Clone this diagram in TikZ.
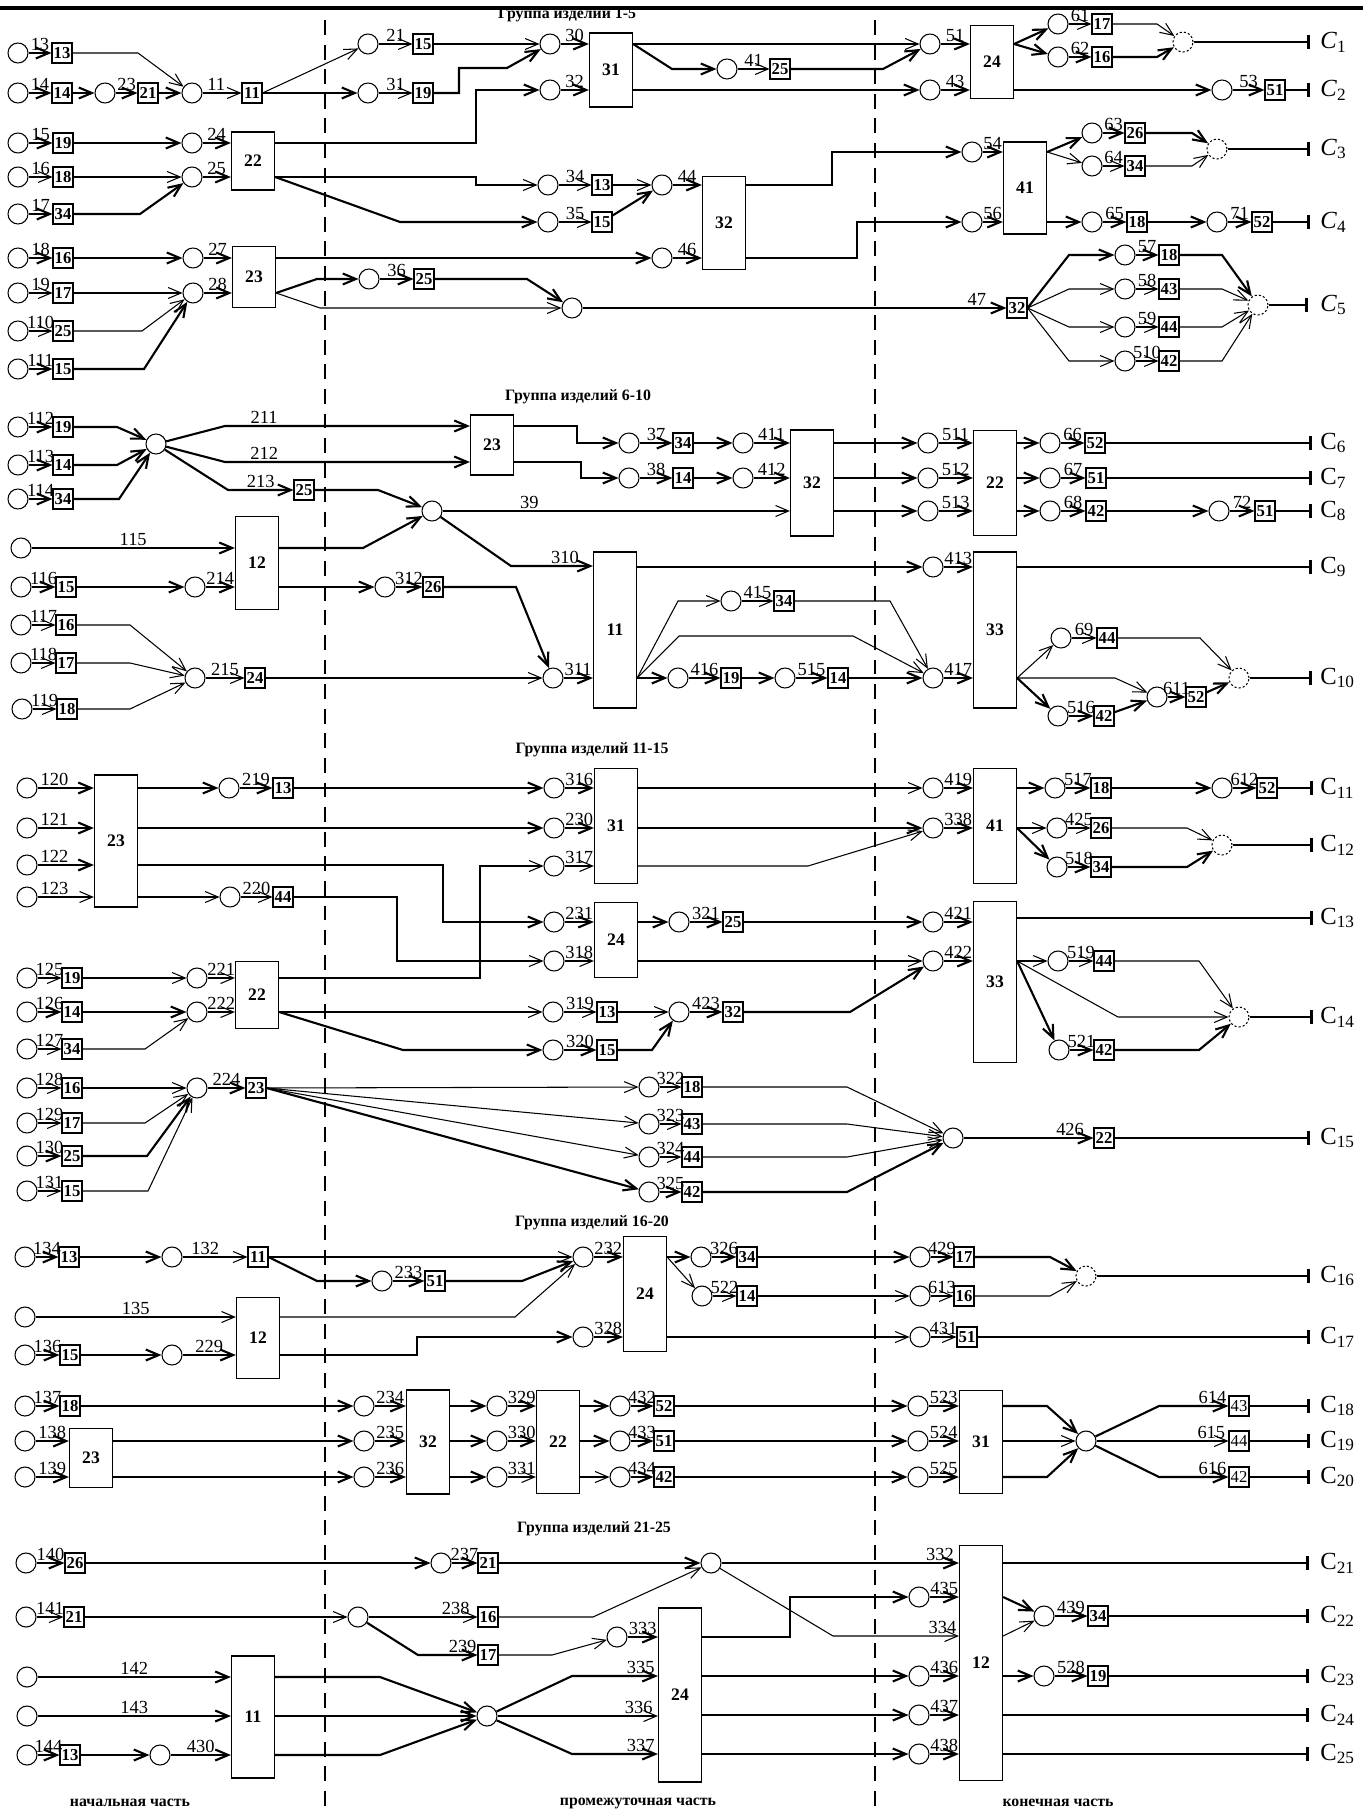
\documentclass[tikz,border=0pt]{standalone}
\usepackage{fontspec}
\setmainfont{Liberation Serif}
\usetikzlibrary{arrows.meta,calc}

\begin{document}
\begin{tikzpicture}[x=0.02cm,y=-0.02cm,
  >={Straight Barb[length=2.6mm,width=2.2mm]},
  thn/.style={line width=0.6pt},
  thk/.style={line width=1.2pt},
  endbar/.style={-{Bar[width=2.8mm,line width=1.7pt]}},
  ev/.style={circle,draw,line width=0.6pt,minimum size=0.4cm,inner sep=0pt},
  dv/.style={ev,dash pattern=on 1.2pt off 1.2pt},
  op/.style={draw,line width=0.6pt,minimum size=0.4cm,inner sep=0pt,font=\fontsize{9.5}{9.5}\selectfont\bfseries},
  opr/.style={op,font=\fontsize{9.5}{9.5}\selectfont},
  blk/.style={draw,line width=0.7pt,minimum width=0.86cm,inner sep=0pt,font=\fontsize{10}{10}\selectfont\bfseries},
  lab/.style={above,inner sep=1pt,font=\fontsize{10.5}{10.5}\selectfont},
  cl/.style={anchor=west,inner sep=0pt,font=\fontsize{14}{14}\selectfont},
  hd/.style={font=\fontsize{9}{9}\selectfont\bfseries}]
  \useasboundingbox (0,0) rectangle (1371,1814);

  \draw[line width=2.2pt] (0,8) -- (1363,8);
  \draw[thn,dash pattern=on 8.5pt off 5.5pt] (325,20) -- (325,1814);
  \draw[thn,dash pattern=on 8.5pt off 5.5pt] (875,20) -- (875,1814);

  \node[hd] (h1) at (567,15) {Группа изделий 1-5};
  \node[hd] (h2) at (578,397) {Группа изделий 6-10};
  \node[hd] (h3) at (592,750) {Группа изделий 11-15};
  \node[hd] (h4) at (592,1223) {Группа изделий 16-20};
  \node[hd] (h5) at (594,1529) {Группа изделий 21-25};
  \node[hd] (p1) at (130,1803) {начальная часть};
  \node[hd] (p2) at (638,1803) {промежуточная часть};
  \node[hd] (p3) at (1058,1803) {конечная часть};

  % group 1-5
  \node[ev] (c13) at (18,53) {};
  \node[op] (o13) at (62,53) {13};
  \node[ev] (c14) at (18,93) {};
  \node[op] (o14) at (62,93) {14};
  \node[ev] (c23) at (105,93) {};
  \node[op] (o23) at (148,93) {21};
  \node[ev] (c11) at (192,93) {};
  \node[op] (o11) at (252,93) {11};
  \node[ev] (c21) at (368,44) {};
  \node[op] (o21) at (423,44) {15};
  \node[ev] (c31) at (368,93) {};
  \node[op] (o31) at (423,93) {19};
  \node[ev] (c30) at (550,44) {};
  \node[ev] (c32) at (550,90) {};
  \node[blk,minimum height=1.48cm] (g1b31) at (611,70) {31};
  \node[ev] (c41) at (727,69) {};
  \node[op] (o41) at (780,69) {25};
  \node[ev] (c51) at (930,44) {};
  \node[ev] (c43) at (930,90) {};
  \node[blk,minimum height=1.46cm] (g1b24) at (992,62) {24};
  \node[ev] (c61) at (1058,24) {};
  \node[op] (o61) at (1102,24) {17};
  \node[ev] (c62) at (1058,57) {};
  \node[op] (o62) at (1102,57) {16};
  \node[dv] (d1) at (1183,42) {};
  \node[ev] (c53) at (1222,90) {};
  \node[op] (o53) at (1275,90) {51};

  \node[ev] (c15) at (18,143) {};
  \node[op] (o15) at (63,143) {19};
  \node[ev] (c24) at (192,143) {};
  \node[ev] (c16) at (18,177) {};
  \node[op] (o16) at (63,177) {18};
  \node[ev] (c25) at (192,177) {};
  \node[ev] (c17) at (18,214) {};
  \node[op] (o17) at (63,214) {34};
  \node[blk,minimum height=1.16cm] (g1b22) at (253,161) {22};
  \node[ev] (c34) at (548,185) {};
  \node[op] (o34) at (602,185) {13};
  \node[ev] (c35) at (548,222) {};
  \node[op] (o35) at (602,222) {15};
  \node[ev] (c44) at (662,185) {};
  \node[ev] (c46) at (662,258) {};
  \node[blk,minimum height=1.86cm] (g1b32) at (724,223) {32};
  \node[ev] (c54) at (972,152) {};
  \node[ev] (c56) at (972,222) {};
  \node[blk,minimum height=1.84cm] (g1b41) at (1025,188) {41};
  \node[ev] (c63) at (1092,133) {};
  \node[op] (o63) at (1135,133) {26};
  \node[ev] (c64) at (1092,166) {};
  \node[op] (o64) at (1135,166) {34};
  \node[dv] (d3) at (1217,149) {};
  \node[ev] (c65) at (1092,222) {};
  \node[op] (o65) at (1137,222) {18};
  \node[ev] (c71) at (1217,222) {};
  \node[op] (o71) at (1262,222) {52};

  \node[ev] (c18) at (18,258) {};
  \node[op] (o18) at (63,258) {16};
  \node[ev] (c27) at (193,258) {};
  \node[ev] (c19) at (18,293) {};
  \node[op] (o19) at (63,293) {17};
  \node[ev] (c28) at (193,293) {};
  \node[ev] (c110) at (18,331) {};
  \node[op] (o110) at (63,331) {25};
  \node[ev] (c111) at (18,369) {};
  \node[op] (o111) at (63,369) {15};
  \node[blk,minimum height=1.22cm] (g1b23) at (254,277) {23};
  \node[ev] (c36) at (369,279) {};
  \node[op] (o36) at (424,279) {25};
  \node[ev] (c47) at (572,308) {};
  \node[op] (o47) at (1017,308) {32};
  \node[ev] (c57) at (1125,255) {};
  \node[op] (o57) at (1169,255) {18};
  \node[ev] (c58) at (1125,289) {};
  \node[op] (o58) at (1169,289) {43};
  \node[ev] (c59) at (1125,327) {};
  \node[op] (o59) at (1169,327) {44};
  \node[ev] (c510) at (1125,361) {};
  \node[op] (o510) at (1169,361) {42};
  \node[dv] (d5) at (1258,305) {};

  \draw[thk,->] (c13) -- node[lab]{13} (o13);
  \draw[thn,->] (o13) -- (138,53) -- (c11);
  \draw[thk,->] (c14) -- node[lab]{14} (o14);
  \draw[thk,->] (o14) -- (c23);
  \draw[thk,->] (c23) -- node[lab]{23} (o23);
  \draw[thk,->] (o23) -- (c11);
  \draw[thn,->] (c11) -- node[lab,pos=0.35]{11} (o11);
  \draw[thn,->] (o11.east) -- (c21);
  \draw[thk,->] (o11) -- (c31);
  \draw[thn,->] (c21) -- node[lab]{21} (o21);
  \draw[thn,->] (c31) -- node[lab]{31} (o31);
  \draw[thn,->] (o21) -- (c30);
  \draw[thk,->] (o31) -- (459,93) -- (459,68) -- (507,68) -- (c30);
  \draw[thk,->] (c30) -- node[lab]{30} (c30 -| g1b31.west);
  \draw[thk,->] (c32) -- node[lab]{32} (c32 -| g1b31.west);
  \draw[thk,->] (g1b22.east |- c24) -- (476,143) -- (476,90) -- (c32);
  \draw[thn,->] (g1b31.east |- c30) -- (c51);
  \draw[thk,->] (g1b31.east |- c30) -- (672,69) -- (c41);
  \draw[thn,->] (c41) -- node[lab]{41} (o41);
  \draw[thk,->] (o41) -- (883,69) -- (c51);
  \draw[thk,->] (g1b31.east |- c43) -- (c43);
  \draw[thk,->] (c51) -- node[lab]{51} (c51 -| g1b24.west);
  \draw[thk,->] (c43) -- node[lab]{43} (c43 -| g1b24.west);
  \draw[thk,->] (g1b24.east |- c51) -- (c61);
  \draw[thk,->] (g1b24.east |- c51) -- (c62);
  \draw[thn,->] (c61) -- node[lab]{61} (o61);
  \draw[thk,->] (c62) -- node[lab]{62} (o62);
  \draw[thn,->] (o61) -- (1157,24) -- (d1);
  \draw[thk,->] (o62) -- (1157,57) -- (d1);
  \draw[thn,endbar] (d1) -- (1310,42);
  \node[cl] (C1) at (1320,42) {\textit{C}\textsubscript{1}};
  \draw[thk,->] (g1b24.east |- c43) -- (c53);
  \draw[thk,->] (c53) -- node[lab]{53} (o53);
  \draw[thn,endbar] (o53) -- (1310,90);
  \node[cl] (C2) at (1320,90) {\textit{C}\textsubscript{2}};

  \draw[thk,->] (c15) -- node[lab]{15} (o15);
  \draw[thk,->] (o15) -- (c24);
  \draw[thk,->] (c24) -- node[lab]{24} (c24 -| g1b22.west);
  \draw[thn,->] (c16) -- node[lab]{16} (o16);
  \draw[thn,->] (o16) -- (c25);
  \draw[thk,->] (c25) -- node[lab]{25} (c25 -| g1b22.west);
  \draw[thk,->] (c17) -- node[lab]{17} (o17);
  \draw[thk,->] (o17) -- (140,214) -- (c25);
  \draw[thn,->] (g1b22.east |- c25) -- (476,177) -- (476,185) -- (c34);
  \draw[thk,->] (g1b22.east |- c25) -- (400,222) -- (c35);
  \draw[thn,->] (c34) -- node[lab]{34} (o34);
  \draw[thn,->] (c35) -- node[lab]{35} (o35);
  \draw[thn,->] (o34) -- (c44);
  \draw[thk,->] (o35) -- (c44);
  \draw[thk,->] (c44) -- node[lab]{44} (c44 -| g1b32.west);
  \draw[thk,->] (c46) -- node[lab]{46} (c46 -| g1b32.west);
  \draw[thk,->] (g1b32.east |- c44) -- (832,185) -- (832,152) -- (c54);
  \draw[thk,->] (g1b32.east |- c46) -- (857,258) -- (857,222) -- (c56);
  \draw[thk,->] (c54) -- node[lab]{54} (c54 -| g1b41.west);
  \draw[thk,->] (c56) -- node[lab]{56} (c56 -| g1b41.west);
  \draw[thk,->] (g1b41.east |- c54) -- (c63);
  \draw[thn,->] (g1b41.east |- c54) -- (c64);
  \draw[thk,->] (c63) -- node[lab]{63} (o63);
  \draw[thn,->] (c64) -- node[lab]{64} (o64);
  \draw[thk,->] (o63) -- (1192,133) -- (d3);
  \draw[thn,->] (o64) -- (1192,166) -- (d3);
  \draw[thn,endbar] (d3) -- (1310,149);
  \node[cl] (C3) at (1320,149) {\textit{C}\textsubscript{3}};
  \draw[thk,->] (g1b41.east |- c56) -- (c65);
  \draw[thk,->] (c65) -- node[lab]{65} (o65);
  \draw[thk,->] (o65) -- (c71);
  \draw[thk,->] (c71) -- node[lab]{71} (o71);
  \draw[thn,endbar] (o71) -- (1310,222);
  \node[cl] (C4) at (1320,222) {\textit{C}\textsubscript{4}};

  \draw[thk,->] (c18) -- node[lab]{18} (o18);
  \draw[thk,->] (o18) -- (c27);
  \draw[thk,->] (c27) -- node[lab]{27} (c27 -| g1b23.west);
  \draw[thn,->] (c19) -- node[lab]{19} (o19);
  \draw[thn,->] (o19) -- (c28);
  \draw[thk,->] (c28) -- node[lab]{28} (c28 -| g1b23.west);
  \draw[thn,->] (c110) -- node[lab]{110} (o110);
  \draw[thn,->] (o110) -- (142,331) -- (c28);
  \draw[thk,->] (c111) -- node[lab]{111} (o111);
  \draw[thk,->] (o111) -- (144,369) -- (c28);
  \draw[thk,->] (g1b23.east |- c27) -- (c46);
  \draw[thk,->] (g1b23.east |- c28) -- (317,279) -- (c36);
  \draw[thn,->] (g1b23.east |- c28) -- (320,308) -- (c47);
  \draw[thk,->] (c36) -- node[lab]{36} (o36);
  \draw[thk,->] (o36) -- (527,279) -- (c47);
  \draw[thk,->] (c47) -- node[lab,pos=0.93]{47} (o47);
  \draw[thk,->] (o47.east) -- (1069,255) -- (c57);
  \draw[thn,->] (o47.east) -- (1069,289) -- (c58);
  \draw[thn,->] (o47.east) -- (1069,327) -- (c59);
  \draw[thn,->] (o47.east) -- (1069,361) -- (c510);
  \draw[thk,->] (c57) -- node[lab]{57} (o57);
  \draw[thn,->] (c58) -- node[lab]{58} (o58);
  \draw[thn,->] (c59) -- node[lab]{59} (o59);
  \draw[thn,->] (c510) -- node[lab]{510} (o510);
  \draw[thk,->] (o57) -- (1222,255) -- (d5);
  \draw[thn,->] (o58) -- (1222,289) -- (d5);
  \draw[thn,->] (o59) -- (1222,327) -- (d5);
  \draw[thn,->] (o510) -- (1222,361) -- (d5);
  \draw[thn,endbar] (d5) -- (1308,305);
  \node[cl] (C5) at (1320,305) {\textit{C}\textsubscript{5}};

  % group 6-10
  \node[ev] (c112) at (18,427) {};
  \node[op] (o112) at (63,427) {19};
  \node[ev] (c113) at (18,465) {};
  \node[op] (o113) at (63,465) {14};
  \node[ev] (c114) at (18,499) {};
  \node[op] (o114) at (63,499) {34};
  \node[ev] (m6) at (156,444) {};
  \node[blk,minimum height=1.2cm] (g2b23) at (492,445) {23};
  \node[op] (o213) at (304,490) {25};
  \node[ev] (c39) at (432,511) {};
  \node[ev] (c37) at (629,443) {};
  \node[op] (o37) at (683,443) {34};
  \node[ev] (c411) at (743,443) {};
  \node[ev] (c38) at (629,478) {};
  \node[op] (o38) at (683,478) {14};
  \node[ev] (c412) at (743,478) {};
  \node[blk,minimum height=2.12cm] (g2b32) at (812,483) {32};
  \node[ev] (c511) at (928,443) {};
  \node[ev] (c512) at (928,478) {};
  \node[ev] (c513) at (928,511) {};
  \node[blk,minimum height=2.1cm] (g2b22) at (995,483) {22};
  \node[ev] (c66) at (1050,443) {};
  \node[op] (o66) at (1095,443) {52};
  \node[ev] (c67) at (1050,478) {};
  \node[op] (o67) at (1096,478) {51};
  \node[ev] (c68) at (1050,511) {};
  \node[op] (o68) at (1096,511) {42};
  \node[ev] (c72) at (1219,511) {};
  \node[op] (o72) at (1265,511) {51};
  \node[ev] (c115) at (21,548) {};
  \node[blk,minimum height=1.86cm] (g2b12) at (257,563) {12};
  \node[ev] (c116) at (21,587) {};
  \node[op] (o116) at (66,587) {15};
  \node[ev] (c214) at (195,587) {};
  \node[ev] (c312) at (385,587) {};
  \node[op] (o312) at (433,587) {26};
  \node[ev] (c311) at (553,678) {};
  \node[blk,minimum height=3.12cm] (g2b11) at (615,630) {11};
  \node[ev] (c117) at (21,625) {};
  \node[op] (o117) at (66,625) {16};
  \node[ev] (c118) at (21,663) {};
  \node[op] (o118) at (66,663) {17};
  \node[ev] (c119) at (22,709) {};
  \node[op] (o119) at (67,709) {18};
  \node[ev] (c215) at (195,678) {};
  \node[op] (o215) at (255,678) {24};
  \node[ev] (c413) at (933,567) {};
  \node[ev] (c417) at (933,678) {};
  \node[ev] (c415) at (731,601) {};
  \node[op] (o415) at (784,601) {34};
  \node[ev] (c416) at (678,678) {};
  \node[op] (o416) at (731,678) {19};
  \node[ev] (c515) at (785,678) {};
  \node[op] (o515) at (838,678) {14};
  \node[blk,minimum height=3.12cm] (g2b33) at (995,630) {33};
  \node[ev] (c69) at (1061,638) {};
  \node[op] (o69) at (1107,638) {44};
  \node[ev] (c516) at (1058,716) {};
  \node[op] (o516) at (1104,716) {42};
  \node[ev] (c611) at (1157,697) {};
  \node[op] (o611) at (1196,697) {52};
  \node[dv] (d10) at (1239,678) {};

  \draw[thk,->] (c112) -- node[lab]{112} (o112);
  \draw[thk,->] (o112) -- (117,427) -- (m6);
  \draw[thk,->] (c113) -- node[lab]{113} (o113);
  \draw[thk,->] (o113) -- (117,465) -- (m6);
  \draw[thk,->] (c114) -- node[lab]{114} (o114);
  \draw[thk,->] (o114) -- (119,499) -- (m6);
  \draw[thk,->] (m6) -- (225,426) -- node[lab,pos=0.16]{211} (g2b23.west |- 0,426);
  \draw[thk,->] (m6) -- (225,462) -- node[lab,pos=0.16]{212} (g2b23.west |- 0,462);
  \draw[thk,->] (m6) -- (228,490) -- node[lab]{213} (o213);
  \draw[thk,->] (o213) -- (378,490) -- (c39);
  \draw[thk,->] (g2b23.east |- 0,426) -- (577,426) -- (577,443) -- (c37);
  \draw[thk,->] (g2b23.east |- 0,462) -- (581,462) -- (581,478) -- (c38);
  \draw[thk,->] (c37) -- node[lab]{37} (o37);
  \draw[thk,->] (o37) -- (c411);
  \draw[thk,->] (c411) -- node[lab]{411} (c411 -| g2b32.west);
  \draw[thk,->] (c38) -- node[lab]{38} (o38);
  \draw[thk,->] (o38) -- (c412);
  \draw[thk,->] (c412) -- node[lab]{412} (c412 -| g2b32.west);
  \draw[thn,->] (c39) -- node[lab,pos=0.25]{39} (c39 -| g2b32.west);
  \draw[thk,->] (c39) -- (511,566) -- node[lab,pos=0.66]{310} (g2b11.west |- 0,566);
  \draw[thk,->] (g2b32.east |- c511) -- (c511);
  \draw[thk,->] (g2b32.east |- c512) -- (c512);
  \draw[thk,->] (g2b32.east |- c513) -- (c513);
  \draw[thk,->] (c511) -- node[lab]{511} (c511 -| g2b22.west);
  \draw[thk,->] (c512) -- node[lab]{512} (c512 -| g2b22.west);
  \draw[thk,->] (c513) -- node[lab]{513} (c513 -| g2b22.west);
  \draw[thk,->] (g2b22.east |- c66) -- (c66);
  \draw[thk,->] (c66) -- node[lab]{66} (o66);
  \draw[thn,endbar] (o66) -- (1312,443);
  \node[cl] (C6) at (1320,443) {C\textsubscript{6}};
  \draw[thk,->] (g2b22.east |- c67) -- (c67);
  \draw[thk,->] (c67) -- node[lab]{67} (o67);
  \draw[thn,endbar] (o67) -- (1312,478);
  \node[cl] (C7) at (1320,478) {C\textsubscript{7}};
  \draw[thk,->] (g2b22.east |- c68) -- (c68);
  \draw[thk,->] (c68) -- node[lab]{68} (o68);
  \draw[thk,->] (o68) -- (c72);
  \draw[thk,->] (c72) -- node[lab]{72} (o72);
  \draw[thn,endbar] (o72) -- (1312,511);
  \node[cl] (C8) at (1320,511) {C\textsubscript{8}};

  \draw[thk,->] (c115) -- node[lab]{115} (c115 -| g2b12.west);
  \draw[thk,->] (c116) -- node[lab]{116} (o116);
  \draw[thk,->] (o116) -- (c214);
  \draw[thk,->] (c214) -- node[lab]{214} (c214 -| g2b12.west);
  \draw[thk,->] (g2b12.east |- c115) -- (363,548) -- (c39);
  \draw[thk,->] (g2b12.east |- c214) -- (c312);
  \draw[thk,->] (c312) -- node[lab]{312} (o312);
  \draw[thk,->] (o312) -- (516,587) -- (c311);
  \draw[thn,->] (c117) -- node[lab]{117} (o117);
  \draw[thn,->] (o117) -- (130,625) -- (c215);
  \draw[thn,->] (c118) -- node[lab]{118} (o118);
  \draw[thn,->] (o118) -- (130,663) -- (c215);
  \draw[thn,->] (c119) -- node[lab]{119} (o119);
  \draw[thn,->] (o119) -- (130,709) -- (c215);
  \draw[thn,->] (c215) -- node[lab]{215} (o215);
  \draw[thn,->] (o215) -- (c311);
  \draw[thk,->] (c311) -- node[lab]{311} (c311 -| g2b11.west);
  \draw[thk,->] (g2b11.east |- c413) -- (c413);
  \draw[thk,->] (g2b11.east |- c311) -- (c416);
  \draw[thn,->] (g2b11.east |- c311) -- (678,601) -- (c415);
  \draw[thn,->] (g2b11.east |- c311) -- (679,636) -- (853,636) -- (c417);
  \draw[thn,->] (c415) -- node[lab]{415} (o415);
  \draw[thn,->] (o415) -- (890,601) -- (c417);
  \draw[thk,->] (c416) -- node[lab]{416} (o416);
  \draw[thk,->] (o416) -- (c515);
  \draw[thk,->] (c515) -- node[lab]{515} (o515);
  \draw[thk,->] (o515) -- (c417);
  \draw[thk,->] (c413) -- node[lab]{413} (c413 -| g2b33.west);
  \draw[thk,->] (c417) -- node[lab]{417} (c417 -| g2b33.west);
  \draw[thn,endbar] (g2b33.east |- c413) -- (1312,567);
  \node[cl] (C9) at (1320,567) {C\textsubscript{9}};
  \draw[thn,->] (g2b33.east |- c417) -- (c69);
  \draw[thn,->] (c69) -- node[lab]{69} (o69);
  \draw[thn,->] (o69) -- (1200,638) -- (d10);
  \draw[thn,->] (g2b33.east |- c417) -- (1115,678) -- (c611);
  \draw[thk,->] (g2b33.east |- c417) -- (c516);
  \draw[thk,->] (c516) -- node[lab]{516} (o516);
  \draw[thk,->] (o516) -- (c611);
  \draw[thk,->] (c611) -- node[lab]{611} (o611);
  \draw[thk,->] (o611) -- (d10);
  \draw[thn,endbar] (d10) -- (1312,678);
  \node[cl] (C10) at (1320,678) {C\textsubscript{10}};

  % group 11-15
  \node[ev] (c120) at (27,788) {};
  \node[ev] (c121) at (27,828) {};
  \node[ev] (c122) at (27,865) {};
  \node[ev] (c123) at (27,897) {};
  \node[blk,minimum height=2.64cm] (g3b23) at (116,841) {23};
  \node[ev] (c219) at (229,788) {};
  \node[op] (o219) at (283,788) {13};
  \node[ev] (c220) at (230,897) {};
  \node[op] (o220) at (283,897) {44};
  \node[ev] (c316) at (554,788) {};
  \node[ev] (c230) at (554,828) {};
  \node[ev] (c317) at (554,866) {};
  \node[blk,minimum height=2.3cm] (g3b31) at (616,826) {31};
  \node[ev] (c231) at (554,922) {};
  \node[ev] (c318) at (554,961) {};
  \node[blk,minimum height=1.5cm] (g3b24) at (616,940) {24};
  \node[ev] (c321) at (679,922) {};
  \node[op] (o321) at (733,922) {25};
  \node[ev] (c419) at (933,788) {};
  \node[ev] (c338) at (933,828) {};
  \node[blk,minimum height=2.3cm] (g3b41) at (995,826) {41};
  \node[ev] (c517) at (1055,788) {};
  \node[op] (o517) at (1101,788) {18};
  \node[ev] (c612) at (1222,788) {};
  \node[op] (o612) at (1267,788) {52};
  \node[ev] (c425) at (1057,828) {};
  \node[op] (o425) at (1101,828) {26};
  \node[ev] (c518) at (1057,867) {};
  \node[op] (o518) at (1101,867) {34};
  \node[dv] (d12) at (1222,845) {};
  \node[ev] (c421) at (933,922) {};
  \node[ev] (c422) at (933,961) {};
  \node[blk,minimum height=3.22cm] (g3b33) at (995,982) {33};
  \node[ev] (c519) at (1058,961) {};
  \node[op] (o519) at (1104,961) {44};
  \node[ev] (c521) at (1059,1050) {};
  \node[op] (o521) at (1104,1050) {42};
  \node[dv] (d14) at (1239,1017) {};
  \node[ev] (c125) at (27,978) {};
  \node[op] (o125) at (72,978) {19};
  \node[ev] (c221) at (197,978) {};
  \node[ev] (c126) at (27,1012) {};
  \node[op] (o126) at (72,1012) {14};
  \node[ev] (c222) at (197,1012) {};
  \node[ev] (c127) at (27,1049) {};
  \node[op] (o127) at (72,1049) {34};
  \node[blk,minimum height=1.34cm] (g3b22) at (257,995) {22};
  \node[ev] (c319) at (553,1012) {};
  \node[op] (o319) at (607,1012) {13};
  \node[ev] (c423) at (679,1012) {};
  \node[op] (o423) at (733,1012) {32};
  \node[ev] (c320) at (553,1050) {};
  \node[op] (o320) at (607,1050) {15};
  \node[ev] (c128) at (27,1088) {};
  \node[op] (o128) at (72,1088) {16};
  \node[ev] (c224) at (197,1088) {};
  \node[op] (o224) at (256,1088) {23};
  \node[ev] (c129) at (27,1123) {};
  \node[op] (o129) at (72,1123) {17};
  \node[ev] (c130) at (27,1156) {};
  \node[op] (o130) at (72,1156) {25};
  \node[ev] (c131) at (27,1191) {};
  \node[op] (o131) at (72,1191) {15};
  \node[ev] (c322) at (649,1087) {};
  \node[op] (o322) at (692,1087) {18};
  \node[ev] (c323) at (649,1124) {};
  \node[op] (o323) at (692,1124) {43};
  \node[ev] (c324) at (649,1157) {};
  \node[op] (o324) at (692,1157) {44};
  \node[ev] (c325) at (649,1192) {};
  \node[op] (o325) at (692,1192) {42};
  \node[ev] (c426) at (953,1138) {};
  \node[op] (o426) at (1104,1138) {22};

  \draw[thk,->] (c120) -- node[lab,pos=0.3]{120} (c120 -| g3b23.west);
  \draw[thk,->] (c121) -- node[lab,pos=0.3]{121} (c121 -| g3b23.west);
  \draw[thk,->] (c122) -- node[lab,pos=0.3]{122} (c122 -| g3b23.west);
  \draw[thn,->] (c123) -- node[lab,pos=0.3]{123} (c123 -| g3b23.west);
  \draw[thk,->] (g3b23.east |- c120) -- (c219);
  \draw[thk,->] (c219) -- node[lab]{219} (o219);
  \draw[thk,->] (o219) -- (c316);
  \draw[thk,->] (g3b23.east |- c121) -- (c230);
  \draw[thk,->] (g3b23.east |- c122) -- (443,865) -- (443,922) -- (c231);
  \draw[thn,->] (g3b23.east |- c123) -- (c220);
  \draw[thn,->] (c220) -- node[lab]{220} (o220);
  \draw[thn,->] (o220) -- (397,897) -- (397,961) -- (c318);
  \draw[thn,->] (g3b22.east |- c125) -- (480,978) -- (480,866) -- (c317);
  \draw[thk,->] (c316) -- node[lab]{316} (c316 -| g3b31.west);
  \draw[thk,->] (c230) -- node[lab]{230} (c230 -| g3b31.west);
  \draw[thn,->] (c317) -- node[lab]{317} (c317 -| g3b31.west);
  \draw[thn,->] (g3b31.east |- c316) -- (c419);
  \draw[thk,->] (g3b31.east |- c230) -- (c338);
  \draw[thn,->] (g3b31.east |- c317) -- (808,866) -- (c338);
  \draw[thk,->] (c231) -- node[lab]{231} (c231 -| g3b24.west);
  \draw[thn,->] (c318) -- node[lab]{318} (c318 -| g3b24.west);
  \draw[thk,->] (g3b24.east |- c231) -- (c321);
  \draw[thk,->] (c321) -- node[lab]{321} (o321);
  \draw[thk,->] (o321) -- (c421);
  \draw[thn,->] (g3b24.east |- c318) -- (c422);
  \draw[thk,->] (c419) -- node[lab]{419} (c419 -| g3b41.west);
  \draw[thk,->] (c338) -- node[lab]{338} (c338 -| g3b41.west);
  \draw[thk,->] (g3b41.east |- c419) -- (c517);
  \draw[thk,->] (c517) -- node[lab]{517} (o517);
  \draw[thk,->] (o517) -- (c612);
  \draw[thk,->] (c612) -- node[lab]{612} (o612);
  \draw[thn,endbar] (o612) -- (1313,788);
  \node[cl] (C11) at (1320,788) {C\textsubscript{11}};
  \draw[thn,->] (g3b41.east |- c338) -- (c425);
  \draw[thk,->] (g3b41.east |- c338) -- (c518);
  \draw[thn,->] (c425) -- node[lab]{425} (o425);
  \draw[thk,->] (c518) -- node[lab]{518} (o518);
  \draw[thn,->] (o425) -- (1187,828) -- (d12);
  \draw[thk,->] (o518) -- (1187,867) -- (d12);
  \draw[thn,endbar] (d12) -- (1313,845);
  \node[cl] (C12) at (1320,845) {C\textsubscript{12}};
  \draw[thk,->] (c421) -- node[lab]{421} (c421 -| g3b33.west);
  \draw[thk,->] (c422) -- node[lab]{422} (c422 -| g3b33.west);
  \draw[thn,endbar] (g3b33.east |- 0,918) -- (1313,918);
  \node[cl] (C13) at (1320,918) {C\textsubscript{13}};
  \draw[thn,->] (g3b33.east |- c422) -- (c519);
  \draw[thn,->] (g3b33.east |- c422) -- (1118,1017) -- (d14);
  \draw[thk,->] (g3b33.east |- c422) -- (c521);
  \draw[thn,->] (c519) -- node[lab]{519} (o519);
  \draw[thk,->] (c521) -- node[lab]{521} (o521);
  \draw[thn,->] (o519) -- (1199,961) -- (d14);
  \draw[thk,->] (o521) -- (1199,1050) -- (d14);
  \draw[thn,endbar] (d14) -- (1313,1017);
  \node[cl] (C14) at (1320,1017) {C\textsubscript{14}};

  \draw[thn,->] (c125) -- node[lab]{125} (o125);
  \draw[thn,->] (o125) -- (c221);
  \draw[thn,->] (c221) -- node[lab]{221} (c221 -| g3b22.west);
  \draw[thk,->] (c126) -- node[lab]{126} (o126);
  \draw[thk,->] (o126) -- (c222);
  \draw[thn,->] (c222) -- node[lab]{222} (c222 -| g3b22.west);
  \draw[thn,->] (c127) -- node[lab]{127} (o127);
  \draw[thn,->] (o127) -- (145,1049) -- (c222);
  \draw[thn,->] (g3b22.east |- c222) -- (c319);
  \draw[thk,->] (g3b22.east |- c222) -- (403,1050) -- (c320);
  \draw[thn,->] (c319) -- node[lab]{319} (o319);
  \draw[thn,->] (o319) -- (c423);
  \draw[thk,->] (c320) -- node[lab]{320} (o320);
  \draw[thk,->] (o320) -- (652,1050) -- (c423);
  \draw[thk,->] (c423) -- node[lab]{423} (o423);
  \draw[thk,->] (o423) -- (850,1012) -- (c422);

  \draw[thn,->] (c128) -- node[lab]{128} (o128);
  \draw[thn,->] (o128) -- (c224);
  \draw[thn,->] (c129) -- node[lab]{129} (o129);
  \draw[thn,->] (o129) -- (145,1123) -- (c224);
  \draw[thk,->] (c130) -- node[lab]{130} (o130);
  \draw[thk,->] (o130) -- (147,1156) -- (c224);
  \draw[thn,->] (c131) -- node[lab]{131} (o131);
  \draw[thn,->] (o131) -- (148,1191) -- (c224);
  \draw[thk,->] (c224) -- node[lab]{224} (o224);
  \draw[thn,->] (o224.east) -- (c322);
  \draw[thn,->] (o224.east) -- (c323);
  \draw[thn,->] (o224.east) -- (c324);
  \draw[thk,->] (o224.east) -- (c325);
  \draw[thn,->] (c322) -- node[lab]{322} (o322);
  \draw[thn,->] (c323) -- node[lab]{323} (o323);
  \draw[thn,->] (c324) -- node[lab]{324} (o324);
  \draw[thk,->] (c325) -- node[lab]{325} (o325);
  \draw[thn,->] (o322) -- (847,1087) -- (c426);
  \draw[thn,->] (o323) -- (847,1124) -- (c426);
  \draw[thn,->] (o324) -- (847,1157) -- (c426);
  \draw[thk,->] (o325) -- (847,1192) -- (c426);
  \draw[thk,->] (c426) -- node[lab,pos=0.82]{426} (o426);
  \draw[thn,endbar] (o426) -- (1310,1138);
  \node[cl] (C15) at (1320,1138) {C\textsubscript{15}};

  % group 16-20
  \node[ev] (c134) at (25,1257) {};
  \node[op] (o134) at (69,1257) {13};
  \node[ev] (c132) at (172,1257) {};
  \node[op] (o132) at (258,1257) {11};
  \node[ev] (c233) at (382,1281) {};
  \node[op] (o233) at (435,1281) {51};
  \node[ev] (c232) at (583,1257) {};
  \node[ev] (c135) at (25,1317) {};
  \node[blk,minimum height=1.62cm] (g4b12) at (258,1338) {12};
  \node[ev] (c136) at (25,1355) {};
  \node[op] (o136) at (70,1355) {15};
  \node[ev] (c229) at (172,1355) {};
  \node[ev] (c328) at (583,1337) {};
  \node[blk,minimum height=2.3cm] (g4b24) at (645,1294) {24};
  \node[ev] (c326) at (701,1257) {};
  \node[op] (o326) at (747,1257) {34};
  \node[ev] (c522) at (702,1296) {};
  \node[op] (o522) at (747,1296) {14};
  \node[ev] (c429) at (920,1257) {};
  \node[op] (o429) at (964,1257) {17};
  \node[ev] (c613) at (920,1296) {};
  \node[op] (o613) at (964,1296) {16};
  \node[dv] (d16) at (1086,1276) {};
  \node[ev] (c431) at (920,1337) {};
  \node[op] (o431) at (967,1337) {51};

  \draw[thk,->] (c134) -- node[lab]{134} (o134);
  \draw[thk,->] (o134) -- (c132);
  \draw[thn,->] (c132) -- node[lab,pos=0.35]{132} (o132);
  \draw[thn,->] (o132) -- (c232);
  \draw[thk,->] (o132.east) -- (317,1281) -- (c233);
  \draw[thk,->] (c233) -- node[lab]{233} (o233);
  \draw[thk,->] (o233) -- (522,1281) -- (c232);
  \draw[thn,->] (c135) -- node[lab]{135} (c135 -| g4b12.west);
  \draw[thk,->] (c136) -- node[lab]{136} (o136);
  \draw[thk,->] (o136) -- (c229);
  \draw[thk,->] (c229) -- node[lab]{229} (c229 -| g4b12.west);
  \draw[thn,->] (g4b12.east |- c135) -- (515,1317) -- (c232);
  \draw[thk,->] (g4b12.east |- c229) -- (417,1355) -- (417,1337) -- (c328);
  \draw[thk,->] (c232) -- node[lab]{232} (c232 -| g4b24.west);
  \draw[thk,->] (c328) -- node[lab]{328} (c328 -| g4b24.west);
  \draw[thk,->] (g4b24.east |- c232) -- (c326);
  \draw[thn,->] (g4b24.east |- c232) -- (c522);
  \draw[thk,->] (c326) -- node[lab]{326} (o326);
  \draw[thk,->] (o326) -- (c429);
  \draw[thn,->] (c522) -- node[lab]{522} (o522);
  \draw[thn,->] (o522) -- (c613);
  \draw[thn,->] (g4b24.east |- c328) -- (c431);
  \draw[thk,->] (c429) -- node[lab]{429} (o429);
  \draw[thk,->] (o429) -- (1050,1257) -- (d16);
  \draw[thn,->] (c613) -- node[lab]{613} (o613);
  \draw[thn,->] (o613) -- (1050,1296) -- (d16);
  \draw[thn,endbar] (d16) -- (1310,1276);
  \node[cl] (C16) at (1320,1276) {C\textsubscript{16}};
  \draw[thn,->] (c431) -- node[lab]{431} (o431);
  \draw[thn,endbar] (o431) -- (1310,1337);
  \node[cl] (C17) at (1320,1337) {C\textsubscript{17}};

  \node[ev] (c137) at (25,1406) {};
  \node[op] (o137) at (70,1406) {18};
  \node[ev] (c234) at (364,1406) {};
  \node[ev] (c138) at (25,1441) {};
  \node[ev] (c139) at (25,1477) {};
  \node[blk,minimum height=1.18cm] (g4b23) at (91,1458) {23};
  \node[ev] (c235) at (364,1441) {};
  \node[ev] (c236) at (364,1477) {};
  \node[blk,minimum height=2.08cm] (g4b32) at (428,1442) {32};
  \node[ev] (c329) at (497,1406) {};
  \node[ev] (c330) at (497,1441) {};
  \node[ev] (c331) at (497,1477) {};
  \node[blk,minimum height=2.06cm] (g4b22) at (558,1442) {22};
  \node[ev] (c432) at (620,1406) {};
  \node[op] (o432) at (664,1406) {52};
  \node[ev] (c433) at (620,1441) {};
  \node[op] (o433) at (664,1441) {51};
  \node[ev] (c434) at (620,1477) {};
  \node[op] (o434) at (664,1477) {42};
  \node[ev] (c523) at (918,1406) {};
  \node[ev] (c524) at (918,1441) {};
  \node[ev] (c525) at (918,1477) {};
  \node[blk,minimum height=2.06cm] (g4b31) at (981,1442) {31};
  \node[ev] (m18) at (1086,1441) {};
  \node[opr] (o614) at (1239,1406) {43};
  \node[opr] (o615) at (1239,1441) {44};
  \node[opr] (o616) at (1239,1477) {42};

  \draw[thk,->] (c137) -- node[lab]{137} (o137);
  \draw[thk,->] (o137) -- (c234);
  \draw[thk,->] (c138) -- node[lab]{138} (c138 -| g4b23.west);
  \draw[thk,->] (c139) -- node[lab]{139} (c139 -| g4b23.west);
  \draw[thk,->] (g4b23.east |- c138) -- (c235);
  \draw[thk,->] (g4b23.east |- c139) -- (c236);
  \draw[thk,->] (c234) -- node[lab]{234} (c234 -| g4b32.west);
  \draw[thk,->] (c235) -- node[lab]{235} (c235 -| g4b32.west);
  \draw[thk,->] (c236) -- node[lab]{236} (c236 -| g4b32.west);
  \draw[thk,->] (g4b32.east |- c329) -- (c329);
  \draw[thk,->] (g4b32.east |- c330) -- (c330);
  \draw[thk,->] (g4b32.east |- c331) -- (c331);
  \draw[thk,->] (c329) -- node[lab]{329} (c329 -| g4b22.west);
  \draw[thk,->] (c330) -- node[lab]{330} (c330 -| g4b22.west);
  \draw[thn,->] (c331) -- node[lab]{331} (c331 -| g4b22.west);
  \draw[thk,->] (g4b22.east |- c432) -- (c432);
  \draw[thk,->] (g4b22.east |- c433) -- (c433);
  \draw[thn,->] (g4b22.east |- c434) -- (c434);
  \draw[thk,->] (c432) -- node[lab]{432} (o432);
  \draw[thk,->] (c433) -- node[lab]{433} (o433);
  \draw[thk,->] (c434) -- node[lab]{434} (o434);
  \draw[thk,->] (o432) -- (c523);
  \draw[thk,->] (o433) -- (c524);
  \draw[thk,->] (o434) -- (c525);
  \draw[thk,->] (c523) -- node[lab]{523} (c523 -| g4b31.west);
  \draw[thk,->] (c524) -- node[lab]{524} (c524 -| g4b31.west);
  \draw[thk,->] (c525) -- node[lab]{525} (c525 -| g4b31.west);
  \draw[thk,->] (g4b31.east |- c523) -- (1047,1406) -- (m18);
  \draw[thn,->] (g4b31.east |- c524) -- (m18);
  \draw[thk,->] (g4b31.east |- c525) -- (1047,1477) -- (m18);
  \draw[thk,->] (m18) -- (1159,1406) -- node[lab,pos=0.77]{614} (o614);
  \draw[thn,->] (m18) -- node[lab,pos=0.87]{615} (o615);
  \draw[thk,->] (m18) -- (1159,1477) -- node[lab,pos=0.77]{616} (o616);
  \draw[thn,endbar] (o614) -- (1310,1406);
  \node[cl] (C18) at (1320,1406) {C\textsubscript{18}};
  \draw[thn,endbar] (o615) -- (1310,1441);
  \node[cl] (C19) at (1320,1441) {C\textsubscript{19}};
  \draw[thn,endbar] (o616) -- (1310,1477);
  \node[cl] (C20) at (1320,1477) {C\textsubscript{20}};

  % group 21-25
  \node[ev] (c140) at (26,1563) {};
  \node[op] (o140) at (75,1563) {26};
  \node[ev] (c237) at (441,1563) {};
  \node[op] (o237) at (488,1563) {21};
  \node[ev] (c332) at (711,1563) {};
  \node[ev] (c141) at (26,1617) {};
  \node[op] (o141) at (74,1617) {21};
  \node[ev] (c238) at (358,1617) {};
  \node[op] (o238) at (488,1617) {16};
  \node[op] (o239) at (488,1655) {17};
  \node[ev] (c333) at (617,1637) {};
  \node[blk,minimum height=3.48cm] (g5b24) at (680,1695) {24};
  \node[ev] (c142) at (27,1677) {};
  \node[ev] (c143) at (27,1716) {};
  \node[ev] (c144) at (27,1755) {};
  \node[op] (o144) at (70,1755) {13};
  \node[ev] (c430) at (160,1755) {};
  \node[blk,minimum height=2.44cm] (g5b11) at (253,1717) {11};
  \node[ev] (m24) at (487,1716) {};
  \node[ev] (c435) at (919,1597) {};
  \node[ev] (c436) at (919,1676) {};
  \node[ev] (c437) at (919,1715) {};
  \node[ev] (c438) at (919,1754) {};
  \node[blk,minimum height=4.7cm] (g5b12) at (981,1663) {12};
  \node[ev] (c439) at (1044,1616) {};
  \node[op] (o439) at (1098,1616) {34};
  \node[ev] (c528) at (1044,1676) {};
  \node[op] (o528) at (1098,1676) {19};

  \draw[thk,->] (c140) -- node[lab]{140} (o140);
  \draw[thk,->] (o140) -- (c237);
  \draw[thk,->] (c237) -- node[lab]{237} (o237);
  \draw[thk,->] (o237) -- (c332);
  \draw[thk,->] (c332) -- node[lab,pos=0.92]{332} (c332 -| g5b12.west);
  \draw[thn,->] (c332) -- (833,1636) -- node[lab,pos=0.87]{334} (g5b12.west |- 0,1636);
  \draw[thn,->] (c141) -- node[lab]{141} (o141);
  \draw[thn,->] (o141) -- (c238);
  \draw[thn,->] (c238) -- node[lab,pos=0.8]{238} (o238);
  \draw[thk,->] (c238) -- (418,1655) -- node[lab,pos=0.75]{239} (o239);
  \draw[thn,->] (o238) -- (593,1617) -- (c332);
  \draw[thn,->] (o239) -- (552,1655) -- (c333);
  \draw[thk,->] (c333) -- node[lab]{333} (c333 -| g5b24.west);
  \draw[thk,->] (c142) -- node[lab]{142} (c142 -| g5b11.west);
  \draw[thk,->] (c143) -- node[lab]{143} (c143 -| g5b11.west);
  \draw[thk,->] (c144) -- node[lab]{144} (o144);
  \draw[thk,->] (o144) -- (c430);
  \draw[thk,->] (c430) -- node[lab]{430} (c430 -| g5b11.west);
  \draw[thk,->] (g5b11.east |- c142) -- (380,1677) -- (m24);
  \draw[thk,->] (g5b11.east |- c143) -- (m24);
  \draw[thk,->] (g5b11.east |- c144) -- (380,1755) -- (m24);
  \draw[thk,->] (m24) -- (572,1676) -- node[lab,pos=0.8]{335} (g5b24.west |- 0,1676);
  \draw[thn,->] (m24) -- node[lab,pos=0.88]{336} (m24 -| g5b24.west);
  \draw[thk,->] (m24) -- (572,1754) -- node[lab,pos=0.8]{337} (g5b24.west |- 0,1754);
  \draw[thk,->] (g5b24.east |- c333) -- (790,1637) -- (790,1597) -- (c435);
  \draw[thk,->] (g5b24.east |- c436) -- (c436);
  \draw[thk,->] (g5b24.east |- c437) -- (c437);
  \draw[thk,->] (g5b24.east |- c438) -- (c438);
  \draw[thk,->] (c435) -- node[lab]{435} (c435 -| g5b12.west);
  \draw[thk,->] (c436) -- node[lab]{436} (c436 -| g5b12.west);
  \draw[thk,->] (c437) -- node[lab]{437} (c437 -| g5b12.west);
  \draw[thk,->] (c438) -- node[lab]{438} (c438 -| g5b12.west);
  \draw[thn,endbar] (g5b12.east |- c332) -- (1309,1563);
  \node[cl] (C21) at (1320,1563) {C\textsubscript{21}};
  \draw[thk,->] (g5b12.east |- c435) -- (c439);
  \draw[thn,->] (g5b12.east |- 0,1636) -- (c439);
  \draw[thk,->] (c439) -- node[lab]{439} (o439);
  \draw[thn,endbar] (o439) -- (1309,1616);
  \node[cl] (C22) at (1320,1616) {C\textsubscript{22}};
  \draw[thk,->] (g5b12.east |- c436) -- (c528);
  \draw[thk,->] (c528) -- node[lab]{528} (o528);
  \draw[thn,endbar] (o528) -- (1309,1676);
  \node[cl] (C23) at (1320,1676) {C\textsubscript{23}};
  \draw[thn,endbar] (g5b12.east |- c437) -- (1309,1715);
  \node[cl] (C24) at (1320,1715) {C\textsubscript{24}};
  \draw[thn,endbar] (g5b12.east |- c438) -- (1309,1754);
  \node[cl] (C25) at (1320,1754) {C\textsubscript{25}};
\end{tikzpicture}
\end{document}
